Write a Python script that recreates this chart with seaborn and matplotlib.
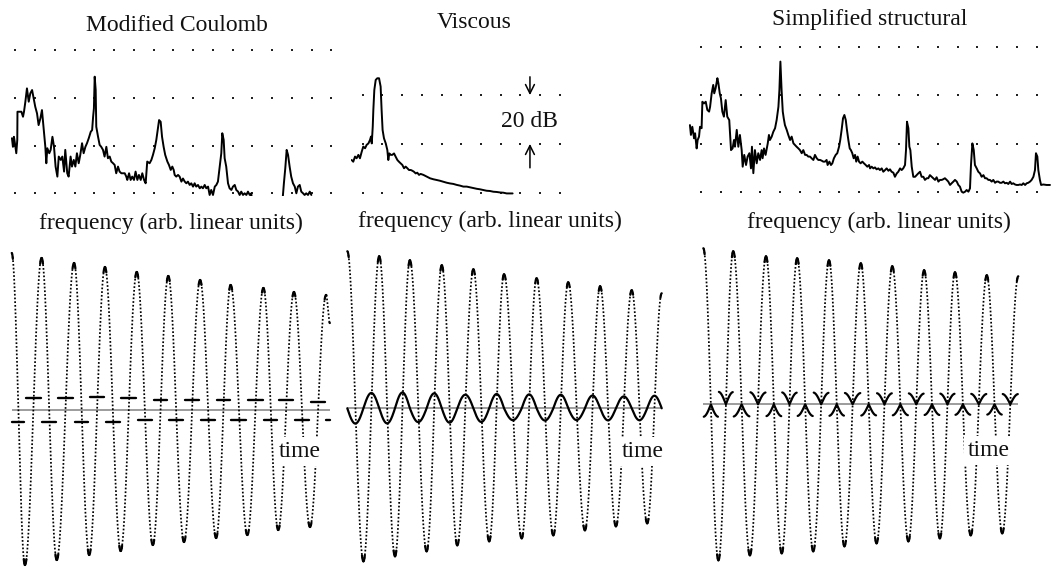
import numpy as np
import pandas as pd
import matplotlib
matplotlib.use("Agg")
import matplotlib.pyplot as plt
import seaborn as sns

# ---------------------------------------------------------------- text
titles = ["Modified Coulomb", "Viscous", "Simplified structural"]
freq_label = "frequency (arb. linear units)"
time_label = "time"
scale_label = "20 dB"

# ---------------------------------------------------------------- spectra
# frequency in grid-column units, level in dB above the lowest dotted row
coulomb_freq = [-0.17, -0.12, -0.07, -0.02, 0.05, 0.10, 0.11, 0.31, 0.39, 0.44,
                0.51, 0.59, 0.68, 0.76, 0.85, 0.93, 1.01, 1.10, 1.18, 1.27,
                1.35, 1.44, 1.52, 1.57, 1.62, 1.72, 1.79, 1.88, 1.96, 2.04,
                2.13, 2.20, 2.30, 2.38, 2.47, 2.53, 2.63, 2.70, 2.80, 2.87,
                2.96, 3.04, 3.12, 3.21, 3.29, 3.38, 3.46, 3.55, 3.63, 3.72,
                3.82, 3.89, 3.94, 3.98, 4.02, 4.07, 4.10, 4.19, 4.27, 4.35,
                4.44, 4.52, 4.61, 4.69, 4.78, 4.86, 4.95, 5.03, 5.11, 5.20,
                5.28, 5.37, 5.54, 5.62, 5.67, 5.76, 5.84, 5.92, 6.01, 6.09,
                6.18, 6.26, 6.35, 6.43, 6.52, 6.60, 6.68, 6.80, 6.89, 6.97,
                7.06, 7.14, 7.23, 7.28, 7.36, 7.43, 7.51, 7.59, 7.70, 7.78,
                7.87, 7.95, 8.02, 8.07, 8.15, 8.24, 8.32, 8.41, 8.49, 8.58,
                8.66, 8.74, 8.83, 8.91, 9.00, 9.08, 9.16, 9.25, 9.34, 9.42,
                9.50, 9.59, 9.67, 9.76, 9.84, 9.92, 10.01, 10.10, 10.18, 10.26,
                10.35, 10.43, 10.48, 10.55, 10.60, 10.68, 10.77, 10.85, 10.94, 11.02,
                11.11, 11.19, 11.28, 11.36, 11.44, 11.53, 11.61, 11.70, 11.78, 11.87,
                11.95, 12.00, 13.50, 13.55, 13.60, 13.67, 13.74, 13.81, 13.89, 13.97,
                14.06, 14.15, 14.23, 14.31, 14.40, 14.48, 14.57, 14.65, 14.73, 14.82,
                14.91, 14.99]
coulomb_db = [23.1, 19.5, 23.7, 21.0, 16.8, 22.4, 34.2, 34.2, 32.1, 34.2,
              38.4, 44.0, 38.4, 41.9, 43.3, 39.8, 36.3, 33.5, 28.6, 31.4,
              34.9, 26.5, 19.5, 12.6, 18.9, 16.8, 18.2, 23.7, 19.5, 11.2,
              7.0, 15.4, 14.0, 15.4, 9.1, 18.2, 8.4, 7.0, 15.4, 11.2,
              14.0, 11.2, 16.8, 12.6, 16.1, 21.0, 16.8, 19.5, 21.0, 23.1,
              25.8, 26.5, 32.1, 35.6, 48.9, 43.3, 27.9, 23.7, 20.3, 19.5,
              18.2, 15.4, 19.5, 14.7, 15.4, 13.3, 12.6, 11.9, 8.4, 11.2,
              9.1, 8.4, 8.4, 7.0, 5.6, 8.4, 5.6, 7.0, 5.6, 9.1,
              5.6, 7.7, 5.6, 8.4, 5.6, 4.2, 13.3, 12.6, 14.0, 16.1,
              18.9, 22.4, 27.9, 30.7, 30.0, 23.7, 19.5, 16.1, 13.3, 11.9,
              9.8, 11.2, 9.8, 7.7, 7.0, 7.7, 7.0, 4.9, 6.2, 4.9,
              4.2, 4.9, 3.5, 4.2, 2.8, 4.2, 2.8, 3.5, 2.1, 2.8,
              2.1, 3.5, 2.1, 2.8, -0.7, 1.4, -0.7, 2.8, 3.5, 4.9,
              11.2, 16.8, 25.2, 22.4, 14.7, 11.2, 4.2, 2.1, 1.4, 2.8,
              3.5, 1.4, 0.7, -0.7, 0.7, -0.7, 0.0, -0.7, 0.7, -0.7,
              0.0, -6.0, -6.0, -0.7, 4.2, 10.5, 18.2, 16.1, 11.2, 7.0,
              4.2, 2.8, 0.0, 2.8, 3.5, 0.7, 0.0, -0.7, 0.0, -0.7,
              0.7, -0.7]

viscous_freq = [-0.56, -0.48, -0.39, -0.31, -0.22, -0.14, -0.05, 0.03, 0.12, 0.20,
                0.29, 0.37, 0.42, 0.46, 0.51, 0.54, 0.59, 0.66, 0.74, 0.83,
                0.91, 0.96, 1.01, 1.08, 1.17, 1.25, 1.30, 1.35, 1.42, 1.50,
                1.59, 1.67, 1.76, 1.84, 1.93, 2.01, 2.10, 2.18, 2.27, 2.35,
                2.44, 2.52, 2.60, 2.69, 2.77, 2.86, 2.94, 3.08, 3.25, 3.42,
                3.59, 3.76, 3.92, 4.09, 4.26, 4.43, 4.60, 4.77, 4.94, 5.11,
                5.28, 5.45, 5.62, 5.79, 5.95, 6.12, 6.29, 6.46, 6.63, 6.80,
                6.97, 7.14, 7.31, 7.48, 7.61]
viscous_db = [13.4, 12.7, 14.8, 14.1, 15.5, 14.1, 16.8, 18.9, 18.2, 19.6,
              20.2, 21.6, 23.0, 20.2, 27.1, 33.9, 42.1, 46.2, 46.9, 46.9,
              43.5, 33.9, 25.7, 22.3, 20.2, 17.5, 13.4, 16.1, 15.5, 15.5,
              16.1, 14.8, 13.4, 12.7, 12.0, 11.4, 10.0, 10.7, 10.0, 9.3,
              9.3, 9.0, 8.6, 7.9, 8.2, 7.3, 7.7, 7.3, 6.6, 5.9,
              5.5, 5.2, 4.9, 4.5, 4.1, 3.8, 3.6, 3.2, 2.9, 2.5,
              2.5, 2.2, 1.9, 1.6, 1.4, 1.1, 0.8, 0.7, 0.4, 0.3,
              0.1, 0.0, -0.3, -0.3, -0.3]

structural_freq = [-0.56, -0.51, -0.44, -0.35, -0.30, -0.22, -0.17, -0.10, -0.05, 0.03,
                   0.07, 0.15, 0.24, 0.32, 0.41, 0.46, 0.54, 0.62, 0.67, 0.74,
                   0.83, 0.88, 0.95, 1.01, 1.08, 1.16, 1.25, 1.33, 1.43, 1.52,
                   1.60, 1.67, 1.72, 1.81, 1.89, 1.97, 2.06, 2.11, 2.19, 2.28,
                   2.36, 2.45, 2.53, 2.58, 2.65, 2.73, 2.82, 2.90, 2.99, 3.07,
                   3.12, 3.19, 3.27, 3.38, 3.44, 3.49, 3.58, 3.66, 3.75, 3.83,
                   3.92, 3.97, 4.02, 4.08, 4.14, 4.19, 4.25, 4.34, 4.42, 4.51,
                   4.59, 4.68, 4.76, 4.84, 4.93, 5.01, 5.10, 5.18, 5.27, 5.35,
                   5.43, 5.52, 5.60, 5.69, 5.77, 5.86, 5.94, 6.03, 6.11, 6.19,
                   6.28, 6.36, 6.41, 6.50, 6.58, 6.65, 6.73, 6.82, 6.90, 6.99,
                   7.05, 7.12, 7.19, 7.26, 7.33, 7.39, 7.46, 7.53, 7.59, 7.66,
                   7.73, 7.80, 7.86, 7.93, 8.00, 8.08, 8.17, 8.25, 8.34, 8.42,
                   8.51, 8.56, 8.64, 8.73, 8.81, 8.89, 8.98, 9.06, 9.15, 9.23,
                   9.32, 9.40, 9.49, 9.57, 9.65, 9.74, 9.82, 9.91, 9.99, 10.08,
                   10.16, 10.24, 10.33, 10.38, 10.43, 10.50, 10.55, 10.60, 10.67, 10.75,
                   10.84, 10.92, 11.00, 11.09, 11.17, 11.26, 11.34, 11.43, 11.51, 11.59,
                   11.68, 11.76, 11.85, 11.93, 12.02, 12.10, 12.19, 12.27, 12.35, 12.44,
                   12.52, 12.61, 12.69, 12.78, 12.86, 12.95, 13.03, 13.11, 13.20, 13.28,
                   13.37, 13.45, 13.54, 13.62, 13.67, 13.74, 13.81, 13.87, 13.96, 14.04,
                   14.13, 14.21, 14.30, 14.38, 14.46, 14.55, 14.63, 14.72, 14.80, 14.89,
                   14.97, 15.05, 15.14, 15.22, 15.31, 15.39, 15.48, 15.56, 15.65, 15.73,
                   15.81, 15.90, 15.98, 16.07, 16.15, 16.24, 16.32, 16.41, 16.49, 16.57,
                   16.66, 16.74, 16.83, 16.91, 16.96, 17.03, 17.08, 17.16, 17.22, 17.33,
                   17.50, 17.67]
structural_db = [27.7, 23.6, 27.0, 22.2, 24.3, 18.0, 21.5, 22.9, 27.0, 26.4,
                 37.4, 36.7, 37.4, 34.0, 33.3, 35.3, 40.9, 44.4, 40.9, 43.0,
                 47.2, 45.1, 40.9, 38.8, 33.3, 31.2, 38.1, 31.2, 29.8, 17.3,
                 18.0, 21.5, 18.7, 25.7, 18.7, 23.6, 17.3, 10.4, 15.3, 11.1,
                 14.6, 16.0, 9.7, 18.7, 7.7, 17.3, 11.8, 16.0, 13.2, 17.3,
                 13.9, 18.0, 15.3, 20.1, 23.6, 21.5, 22.9, 24.9, 26.4, 29.8,
                 35.3, 42.3, 54.1, 42.3, 33.3, 30.5, 27.7, 25.7, 23.6, 21.5,
                 22.9, 20.1, 19.4, 18.7, 18.0, 17.3, 16.0, 17.3, 15.3, 15.3,
                 14.6, 14.6, 13.9, 13.2, 15.3, 13.9, 13.2, 13.2, 12.9, 12.5,
                 12.5, 13.2, 11.1, 12.5, 11.1, 11.8, 13.9, 15.3, 16.0, 18.7,
                 21.5, 25.7, 30.5, 31.9, 29.8, 25.7, 21.5, 18.0, 17.3, 16.0,
                 13.9, 15.3, 12.5, 14.6, 12.5, 11.8, 12.5, 11.8, 11.1, 10.4,
                 11.1, 9.7, 10.4, 9.7, 10.1, 9.3, 9.7, 9.0, 9.7, 8.3,
                 9.0, 9.7, 8.7, 9.3, 8.3, 7.9, 6.2, 7.6, 8.3, 9.7,
                 9.0, 9.7, 11.1, 17.3, 29.1, 26.4, 18.7, 17.3, 10.4, 6.2,
                 6.2, 6.9, 7.6, 8.3, 6.2, 6.2, 4.9, 5.6, 5.6, 6.9,
                 6.2, 5.6, 4.9, 6.0, 4.2, 4.9, 4.9, 5.2, 5.6, 4.9,
                 4.2, 2.8, 3.5, 4.2, 4.9, 4.2, 2.8, 2.1, 0.0, -0.4,
                 0.0, 0.7, 0.0, 1.4, 11.1, 20.1, 17.3, 11.1, 9.7, 8.3,
                 7.6, 6.2, 6.9, 5.6, 5.6, 4.9, 4.9, 4.2, 4.9, 3.7,
                 4.2, 4.2, 3.7, 3.7, 4.2, 3.5, 3.7, 3.2, 4.2, 3.2,
                 3.5, 3.0, 2.8, 2.8, 3.0, 2.8, 3.5, 2.8, 3.5, 3.7,
                 4.2, 4.9, 6.2, 9.0, 16.0, 14.6, 9.0, 4.9, 2.8, 3.0,
                 2.8, 2.8]

# dotted grid: column and row positions of the dots
coulomb_grid_cols = list(range(17))
viscous_grid_cols = list(range(11))
structural_grid_cols = list(range(18))
grid_rows_db = [0, 20, 40, 60]
viscous_grid_rows_db = [0, 20, 40]

# ---------------------------------------------------------------- free decay
# successive extrema of the displacement: time (cycles), displacement (arb.)
coulomb_t = [0.00, 0.42, 0.95, 1.43, 1.98, 2.46, 2.96, 3.46, 3.97, 4.48, 4.97,
             5.47, 5.98, 6.49, 6.95, 7.48, 7.99, 8.46, 8.96, 9.47, 9.98, 10.10]
coulomb_x = [1.57, -1.55, 1.52, -1.50, 1.47, -1.45, 1.43, -1.41, 1.38, -1.35, 1.34,
             -1.32, 1.30, -1.28, 1.25, -1.25, 1.22, -1.20, 1.18, -1.17, 1.15, 0.87]
# friction force level on each half cycle (sign follows the velocity)
coulomb_force = [0.117, 0.123, 0.117, 0.123, 0.117, 0.133, 0.117, 0.123, 0.100, 0.100,
                 0.100, 0.100, 0.100, 0.100, 0.100, 0.100, 0.100, 0.100, 0.100, 0.077,
                 0.100]

viscous_t = [0.00, 0.51, 1.01, 1.51, 1.98, 2.51, 2.99, 3.48, 3.99, 4.49, 4.96,
             5.52, 5.99, 6.52, 6.99, 7.52, 8.00, 8.50, 9.00, 9.49, 9.95]
viscous_x = [1.57, -1.53, 1.52, -1.48, 1.48, -1.43, 1.43, -1.37, 1.39, -1.33, 1.34,
             -1.30, 1.30, -1.27, 1.26, -1.22, 1.22, -1.18, 1.18, -1.15, 1.15]
viscous_coef = 0.016      # force = coef * velocity

structural_t = [0.00, 0.48, 0.95, 1.48, 1.99, 2.49, 2.98, 3.49, 3.99, 4.48, 5.00,
                5.50, 6.00, 6.51, 7.01, 7.51, 7.99, 8.49, 9.00, 9.49, 10.00]
structural_x = [1.56, -1.56, 1.53, -1.51, 1.48, -1.49, 1.46, -1.47, 1.44, -1.42, 1.41,
                -1.39, 1.38, -1.37, 1.34, -1.34, 1.32, -1.31, 1.29, -1.29, 1.28]
structural_coef = 0.08    # force = coef * |x| * sign(velocity)

# ---------------------------------------------------------------- style
sns.set_theme(style="white")
plt.rcParams['font.family'] = ['Liberation Serif', 'DejaVu Serif']
FS = 17
INK = "#000000"

W, H = 1054, 568
fig = plt.figure(figsize=(W / 100, H / 100), dpi=100)


def place(x_at0, x_per, y_at0, y_per, xlim, ylim):
    """axes whose data->pixel map is x_at0 + x_per*x, y_at0 - y_per*y"""
    x0 = x_at0 + x_per * xlim[0]
    x1 = x_at0 + x_per * xlim[1]
    ytop = y_at0 - y_per * ylim[1]
    ybot = y_at0 - y_per * ylim[0]
    ax = fig.add_axes([x0 / W, 1 - ybot / H, (x1 - x0) / W, (ybot - ytop) / H])
    ax.set_xlim(xlim)
    ax.set_ylim(ylim)
    ax.set_axis_off()
    return ax


def ftext(x, y, s, **kw):
    fig.text(x / W, 1 - y / H, s, fontsize=FS, color="#111111", ha="center",
             va="baseline", **kw)


def spectrum(ax, freq, db, cols, rows):
    gx, gy = np.meshgrid(cols, rows)
    sns.scatterplot(x=gx.ravel(), y=gy.ravel(), ax=ax, marker="s", s=2.6,
                    color="#222222", linewidth=0, legend=False)
    df = pd.DataFrame({"f": freq, "db": db})
    sns.lineplot(data=df, x="f", y="db", ax=ax, sort=False, estimator=None,
                 color=INK, lw=1.4)
    ax.set_axis_off()


# top row
ax1 = place(15.3, 19.75, 193.3, 2.385, (-0.3, 16.3), (-1.2, 62))
spectrum(ax1, coulomb_freq, coulomb_db, coulomb_grid_cols, grid_rows_db)
ax2 = place(362.7, 19.7, 192.7, 2.44, (-0.6, 10.3), (-1.2, 48))
spectrum(ax2, viscous_freq, viscous_db, viscous_grid_cols, viscous_grid_rows_db)
ax3 = place(701.0, 19.75, 191.7, 2.405, (-0.8, 17.8), (-1.2, 62))
spectrum(ax3, structural_freq, structural_db, structural_grid_cols, grid_rows_db)

# 20 dB scale marker
arrow = dict(arrowstyle="->", lw=1.1, color=INK, mutation_scale=16,
             shrinkA=0, shrinkB=0)
ax2.annotate("", xy=(8.49, 40), xytext=(8.49, 47.5), arrowprops=arrow,
             annotation_clip=False)
ax2.annotate("", xy=(8.49, 20), xytext=(8.49, 10.2), arrowprops=arrow,
             annotation_clip=False)
ftext(529.5, 127, scale_label)

ftext(177, 31, titles[0])
ftext(474, 28, titles[1])
ftext(870, 25, titles[2])
ftext(171, 229, freq_label)
ftext(490, 227, freq_label)
ftext(879, 228, freq_label)


# bottom row
def decay(t_ext, x_ext, n=160):
    rows = []
    for i in range(len(t_ext) - 1):
        t0, t1 = t_ext[i], t_ext[i + 1]
        a, b = x_ext[i], x_ext[i + 1]
        u = np.linspace(0, 1, n)
        t = t0 + (t1 - t0) * u
        x = (a + b) / 2 + (a - b) / 2 * np.cos(np.pi * u)
        v = (a - b) / 2 * np.pi / (t1 - t0) * (-np.sin(np.pi * u))
        rows.append(pd.DataFrame({"t": t, "x": x, "v": v, "seg": i, "u": u,
                                  "dir": np.sign(b - a)}))
    return pd.concat(rows, ignore_index=True)


def trace(ax, d):
    ax.hlines(0, d["t"].min(), d["t"].max(), color="#9c9c9c", lw=1.4, zorder=1)
    sns.lineplot(data=d, x="t", y="x", ax=ax, sort=False, estimator=None,
                 color=INK, lw=1.25, linestyle=(0, (1, 1.15)), zorder=2)
    # the sampled trace merges into a short solid stroke at each turning point
    tips = d[(d["u"] < 0.09)].copy()
    sns.lineplot(data=tips, x="t", y="x", units="seg", ax=ax, sort=False,
                 estimator=None, color=INK, lw=1.6, zorder=2)
    tips2 = d[(d["u"] > 0.91)].copy()
    sns.lineplot(data=tips2, x="t", y="x", units="seg", ax=ax, sort=False,
                 estimator=None, color=INK, lw=1.6, zorder=2)


axb1 = place(11.7, 31.5, 410.0, 100, (-0.06, 10.3), (-1.58, 1.62))
d1 = decay(coulomb_t, coulomb_x)
trace(axb1, d1)
d1["F"] = d1["dir"] * np.array(coulomb_force)[d1["seg"]]
f1 = d1[(d1["u"] > 0.05) & (d1["u"] < 0.95)]
sns.lineplot(data=f1, x="t", y="F", units="seg", ax=axb1, estimator=None,
             sort=False, color=INK, lw=1.7, zorder=3)

axb2 = place(347.3, 31.6, 408.3, 100, (-0.05, 10.15), (-1.597, 1.62))
d2 = decay(viscous_t, viscous_x)
trace(axb2, d2)
d2["F"] = viscous_coef * d2["v"]
sns.lineplot(data=d2, x="t", y="F", ax=axb2, estimator=None, sort=False,
             color=INK, lw=1.6, zorder=3)

axb3 = place(703.3, 31.5, 404.3, 100, (-0.06, 10.25), (-1.637, 1.62))
d3 = decay(structural_t, structural_x)
trace(axb3, d3)
d3["F"] = structural_coef * d3["x"].abs() * d3["dir"]
f3 = d3[(d3["u"] > 0.03) & (d3["u"] < 0.97)]
sns.lineplot(data=f3, x="t", y="F", units="seg", ax=axb3, estimator=None,
             sort=False, color=INK, lw=1.6, zorder=3)

for ax in (axb1, axb2, axb3):
    ax.set_axis_off()

box = dict(facecolor="white", edgecolor="none", pad=3)
ftext(300, 457, time_label, bbox=box)
ftext(643, 457, time_label, bbox=box)
ftext(989, 456, time_label, bbox=box)

fig.savefig("out.png", dpi=100, facecolor="white")
